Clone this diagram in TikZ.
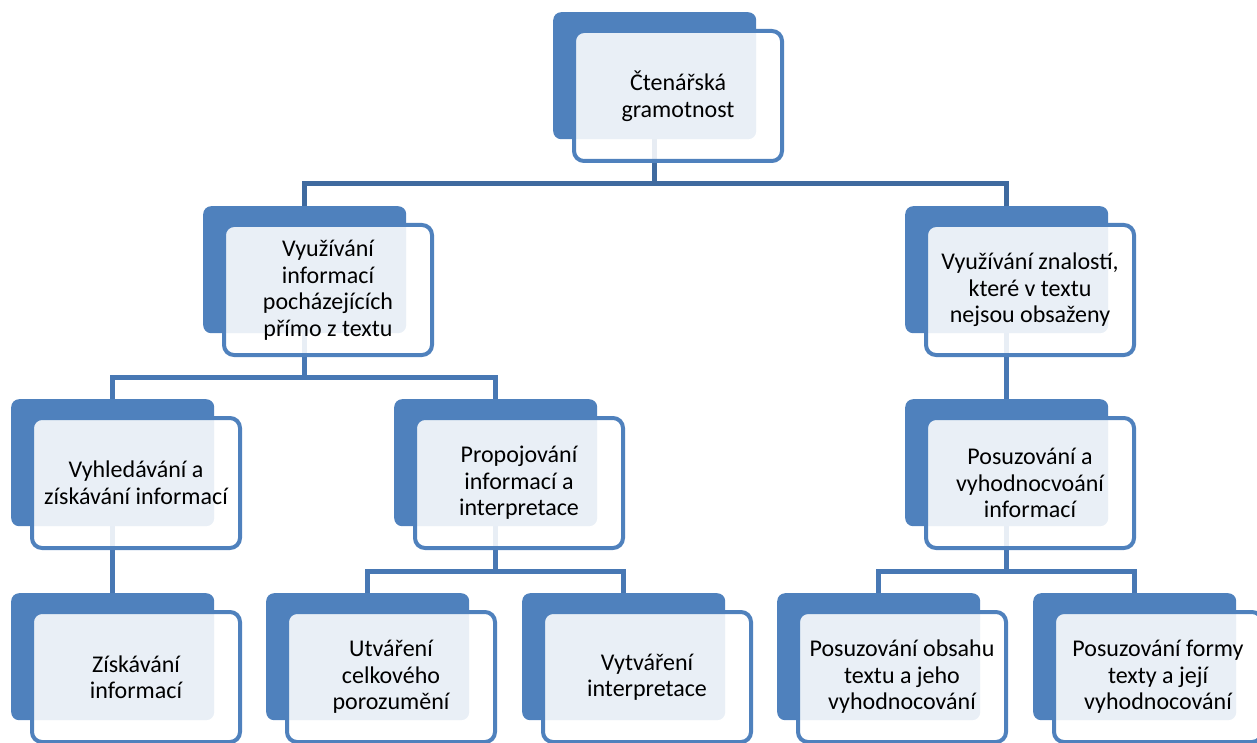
\documentclass[tikz,border=0pt]{standalone}
\usepackage{fontspec}
\setmainfont{Carlito}
\usetikzlibrary{backgrounds, positioning}
\definecolor{boxblue}{HTML}{4F81BD}
\definecolor{linkdark}{HTML}{3F6A9F}
\definecolor{linkblue}{HTML}{4878B4}

\begin{document}
\begin{tikzpicture}[x=1pt, y=-1pt,
    back/.style={fill=boxblue, rounded corners=8pt, minimum width=203pt, minimum height=127pt, inner sep=0pt, anchor=north west},
    front/.style={draw=boxblue, line width=4pt, fill=white, fill opacity=0.88, text opacity=1, rounded corners=10pt, minimum width=208pt, minimum height=130pt, inner sep=0pt, align=center, anchor=north west, font=\fontsize{24}{26.5}\selectfont},
    link/.style={draw=linkblue, line width=5pt},
    toplink/.style={link, draw=linkdark}]
    \useasboundingbox (0,0) rectangle (1257,743);

    % root
    \node[back] (root-b) at (553,12) {};
    \node[front] (root) at ([shift={(19,17)}]root-b.north west) {Čtenářská\\gramotnost};

    % second level
    \node[back] (l2a-b) at (203,206) {};
    \node[front] (l2a) at ([shift={(19,17)}]l2a-b.north west) {Využívání\\informací\\pocházejících\\přímo z textu};
    \node[back] (l2b-b) at (905,206) {};
    \node[front] (l2b) at ([shift={(19,17)}]l2b-b.north west) {Využívání znalostí,\\které v textu\\nejsou obsaženy};

    % third level
    \node[back] (l3a-b) at (11,399) {};
    \node[front] (l3a) at ([shift={(19,17)}]l3a-b.north west) {Vyhledávání a\\získávání informací};
    \node[back] (l3b-b) at (394,399) {};
    \node[front] (l3b) at ([shift={(19,17)}]l3b-b.north west) {Propojování\\informací a\\interpretace};
    \node[back] (l3c-b) at (905,399) {};
    \node[front] (l3c) at ([shift={(19,17)}]l3c-b.north west) {Posuzování a\\vyhodnocvoání\\informací};

    % fourth level
    \node[back] (l4a-b) at (11,593) {};
    \node[front] (l4a) at ([shift={(19,17)}]l4a-b.north west) {Získávání\\informací};
    \node[back] (l4b-b) at (266,593) {};
    \node[front] (l4b) at ([shift={(19,17)}]l4b-b.north west) {Utváření\\celkového\\porozumění};
    \node[back] (l4c-b) at (522,593) {};
    \node[front] (l4c) at ([shift={(19,17)}]l4c-b.north west) {Vytváření\\interpretace};
    \node[back] (l4d-b) at (777,593) {};
    \node[front] (l4d) at ([shift={(19,17)}]l4d-b.north west) {Posuzování obsahu\\textu a jeho\\vyhodnocování};
    \node[back] (l4e-b) at (1033,593) {};
    \node[front] (l4e) at ([shift={(19,17)}]l4e-b.north west) {Posuzování formy\\texty a její\\vyhodnocování};

    % connectors behind the boxes
    \begin{scope}[on background layer]
        \draw[toplink] (root-b.south) |- ([yshift=22pt]l2a-b.north) -- (l2a-b.north);
        \draw[toplink] (root-b.south) |- ([yshift=22pt]l2b-b.north) -- (l2b-b.north);
        \draw[link] (l2a-b.south) |- ([yshift=22pt]l3a-b.north) -- (l3a-b.north);
        \draw[link] (l2a-b.south) |- ([yshift=22pt]l3b-b.north) -- (l3b-b.north);
        \draw[link] (l2b-b.south) -- (l3c-b.north);
        \draw[link] (l3a-b.south) -- (l4a-b.north);
        \draw[link] (l3b-b.south) |- ([yshift=22pt]l4b-b.north) -- (l4b-b.north);
        \draw[link] (l3b-b.south) |- ([yshift=22pt]l4c-b.north) -- (l4c-b.north);
        \draw[link] (l3c-b.south) |- ([yshift=22pt]l4d-b.north) -- (l4d-b.north);
        \draw[link] (l3c-b.south) |- ([yshift=22pt]l4e-b.north) -- (l4e-b.north);
    \end{scope}
\end{tikzpicture}
\end{document}
